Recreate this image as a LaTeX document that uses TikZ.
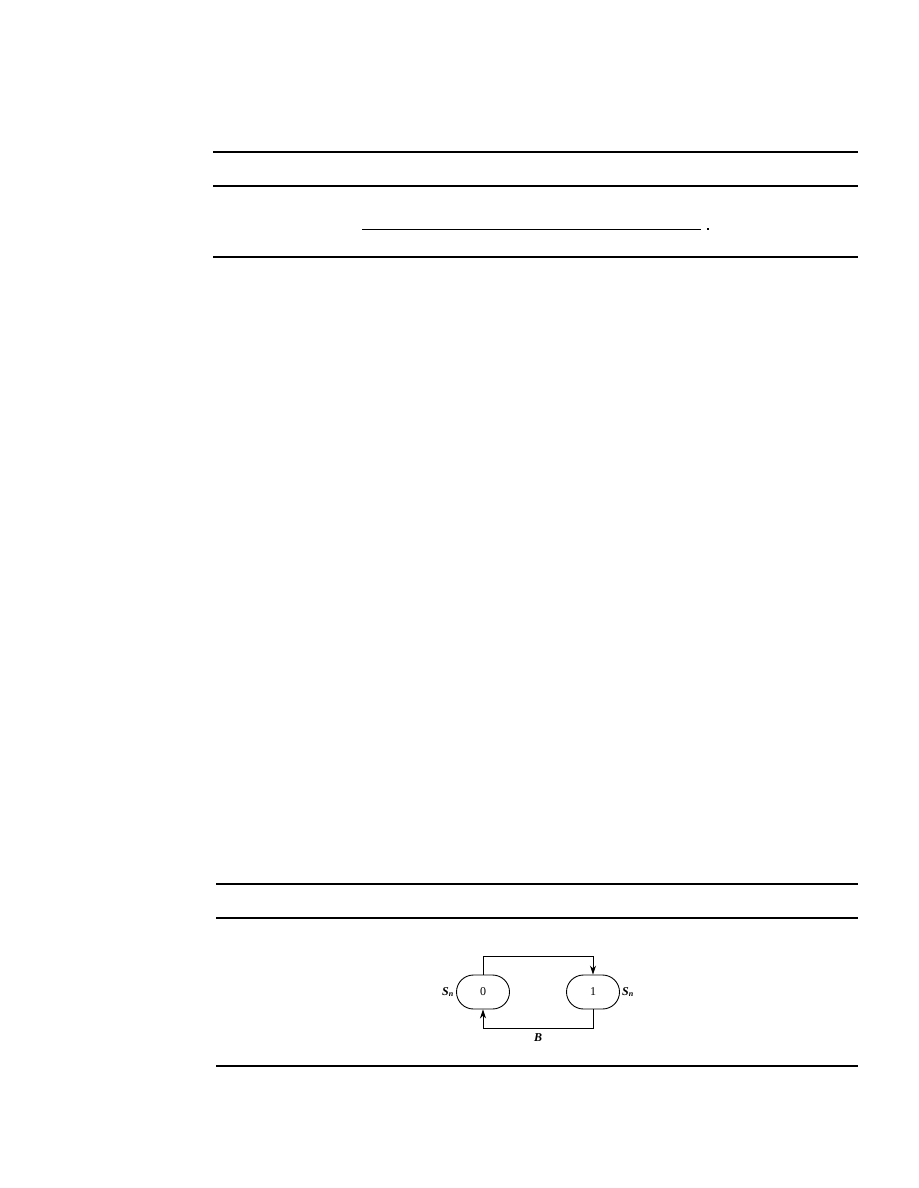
\documentclass[tikz,border=0pt]{standalone}
\usepackage{fontspec}
\setmainfont{Liberation Serif}
\usetikzlibrary{shapes.misc,arrows.meta}

\begin{document}
\begin{tikzpicture}[x=1pt,y=-1pt,
  rule/.style={line width=1.1pt},
  state/.style={draw,rounded rectangle,line width=0.9pt,minimum width=53pt,minimum height=34pt,inner sep=0pt,font=\fontsize{12}{14}\selectfont},
  link/.style={line width=0.9pt,-{Stealth[length=9pt,width=6pt]}},
  every node/.style={font=\fontsize{12}{14}\selectfont}]
			\useasboundingbox (0,0) rectangle (918,1188);
			% upper table
			\draw[rule] (213,152) -- (858,152);
			\draw[rule] (213,186) -- (858,186);
			\draw[rule] (213,257) -- (858,257);
			\draw[line width=0.9pt] (362,229) -- (701,229);
			\fill (707,228) rectangle (709,230);
			% lower table
			\draw[rule] (216,884) -- (858,884);
			\draw[rule] (216,918) -- (858,918);
			\draw[rule] (216,1066) -- (858,1066);
			% states
			\node[state] (zero) at (483,992) {0};
			\node[state] (one) at (593,992) {1};
			\node[anchor=east,inner sep=2pt] (lblzero) at (zero.west) {\textbf{\textit{S}}\textsubscript{\textbf{\textit{n}}}};
			\node[anchor=west,inner sep=2pt] (lblone) at (one.east) {\textbf{\textit{S}}\textsubscript{\textbf{\textit{n}}}};
			\draw[link] (zero.north) -- ++(0,-18) -| (one.north);
			\draw[link] (one.south) -- ++(0,19) -| (zero.south)
				node[pos=0.25,below=1pt] (lblb) {\textbf{\textit{B}}};
		\end{tikzpicture}
\end{document}
